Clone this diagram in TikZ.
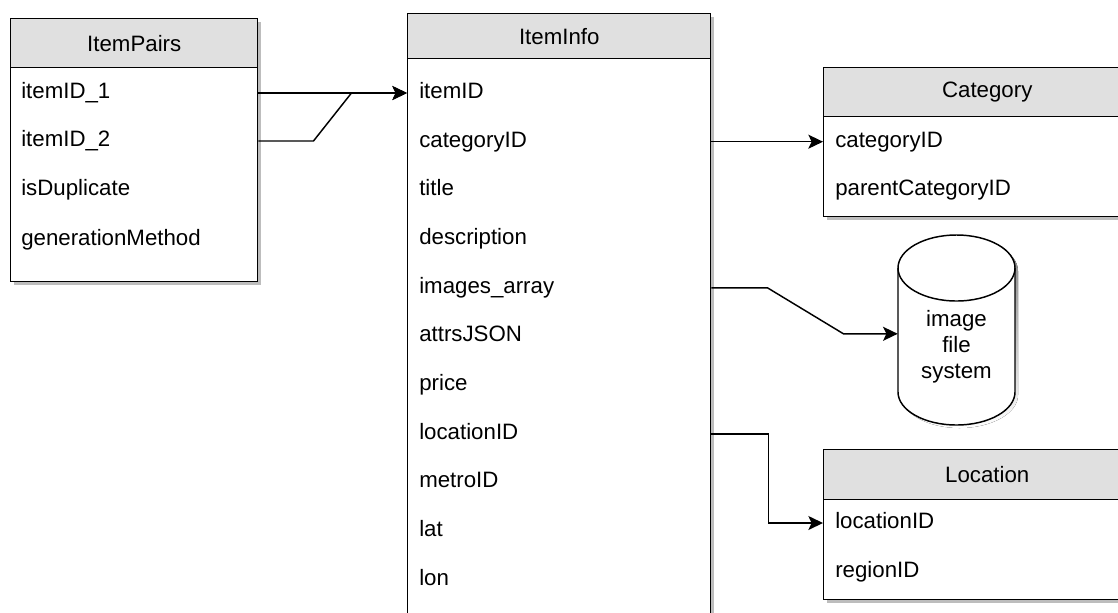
\documentclass[tikz,border=0pt]{standalone}
\usepackage{fontspec}
\setmainfont{Liberation Sans}
\usetikzlibrary{arrows.meta,shadows}
\definecolor{hdrgray}{HTML}{E0E0E0}
\definecolor{shade}{HTML}{BDBDBD}
\newcommand\erfont{\fontsize{16.7}{19.5}\selectfont}

\begin{document}
\begin{tikzpicture}[x=0.75pt,y=-0.75pt,
  tablebody/.style={draw=black, line width=1.1pt, fill=white, inner sep=0, anchor=north west,
    drop shadow={shadow xshift=2.4pt, shadow yshift=-2.4pt, fill=shade, opacity=1}},
  tablehead/.style={draw=black, line width=1.1pt, fill=hdrgray, inner sep=0, anchor=north west, font=\erfont},
  field/.style={anchor=west, inner sep=0, font=\erfont, text height=11.5pt, text depth=3.5pt},
  link/.style={draw=black, line width=1.1pt, -{Stealth[length=11pt, width=10.5pt, inset=2.5pt]}}
]
\useasboundingbox (0,0) rectangle (1118,612);
\clip (0,0) rectangle (1118,612);

% ---- ItemPairs ----
\node[tablebody, minimum width=185.25pt, minimum height=197.25pt] (pairs) at (10,18) {};
\node[tablehead, minimum width=185.25pt, minimum height=36.75pt] (pairsH) at (10,18) {ItemPairs};
\node[field] (p1) at (21,93)  {itemID\_1};
\node[field] (p2) at (21,141) {itemID\_2};
\node[field] (p3) at (21,190) {isDuplicate};
\node[field] (p4) at (21,240) {generationMethod};

% ---- ItemInfo ----
\node[tablebody, minimum width=227.25pt, minimum height=477.75pt] (info) at (407,13) {};
\node[tablehead, minimum width=227.25pt, minimum height=33.75pt] (infoH) at (407,13) {ItemInfo};
\foreach \n/\t [count=\k from 0] in {i1/itemID, i2/categoryID, i3/title, i4/description,
    i5/images\_array, i6/attrsJSON, i7/price, i8/locationID, i9/metroID, i10/lat, i11/lon}
  \node[field] (\n) at (419,{93+48.7*\k}) {\t};

% ---- Category ----
\node[tablebody, minimum width=245.25pt, minimum height=111.75pt] (cat) at (823,67) {};
\node[tablehead, minimum width=245.25pt, minimum height=36.75pt] (catH) at (823,67) {Category};
\node[field] (c1) at (835,141.7) {categoryID};
\node[field] (c2) at (835,190) {parentCategoryID};

% ---- Location ----
\node[tablebody, minimum width=245.25pt, minimum height=112.5pt] (loc) at (823,449) {};
\node[tablehead, minimum width=245.25pt, minimum height=37.5pt] (locH) at (823,449) {Location};
\node[field] (l1) at (835,523) {locationID};
\node[field] (l2) at (835,572) {regionID};

% ---- image file system (cylinder) ----
\node[inner sep=0, minimum width=87.75pt, minimum height=142.5pt] (cyl) at (956.5,330) {};
\fill[shade] (901,271) -- (901,395) arc (180:360:43.875pt and 24.75pt)
  -- (1018,271) arc (0:180:43.875pt and 24.75pt) -- cycle;
\draw[line width=1.1pt, fill=white] (898,268) -- (898,392) arc (180:360:43.875pt and 24.75pt)
  -- (1015,268) arc (0:180:43.875pt and 24.75pt) -- cycle;
\draw[line width=1.1pt] (898,268) arc (180:360:43.875pt and 24.75pt);
\node[align=center, font=\erfont, inner sep=0] (cyltext) at (956.5,347)
  {image\\file\\system};

% ---- connectors ----
\draw[link] (pairs.east |- p1) -- (info.west |- p1);
\draw[link] (pairs.east |- p2) -- ++(55,0) -- ++(38,-48) -- (info.west |- p1);
\draw[link] (info.east |- i2) -- (cat.west |- i2);
\draw[link] (info.east |- i5) -- ++(56,0) -- ++(76,46) -- (cyl.west |- 0,333.8);
\draw[link] (info.east |- i8) -- ++(57,0) |- (loc.west |- l1);
\end{tikzpicture}
\end{document}
